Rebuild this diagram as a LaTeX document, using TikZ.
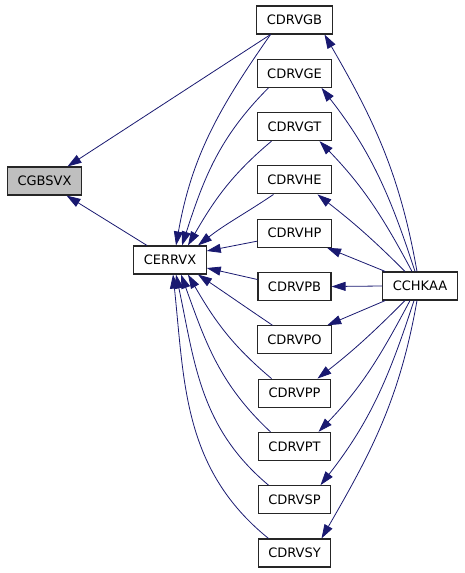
\documentclass[tikz,border=0pt]{standalone}
\usepackage{fontspec}
\setmainfont{DejaVu Sans}
\usetikzlibrary{chains,arrows.meta}

\definecolor{linkblue}{HTML}{191970}
\definecolor{focusgray}{HTML}{BFBFBF}

\begin{document}
\begin{tikzpicture}[
	x=1pt,y=1pt,
	start chain=going below,
	fn/.style={
		draw=black!85,
		line width=1.1pt,
		minimum height=28pt,
		inner xsep=10pt,
		font=\fontsize{13}{15}\selectfont,
	},
	drv/.style={fn,on chain},
	call/.style={<-,draw=linkblue,line width=0.8pt},
	>={Triangle[length=14pt,width=9pt]},
	node distance=24.2pt
]
\useasboundingbox (0,0) rectangle (464,-573);

\node [fn,fill=focusgray] (cgbsvx) at (44.5,-181) {CGBSVX};
\node [fn] (cerrvx) at (170,-260) {CERRVX};
\node [fn] (cchkaa) at (420,-286) {CCHKAA};

% Driver column, chain starts here
\node [drv] (gb) at (294.5,-20) {CDRVGB};
\node [drv] (ge) {CDRVGE};
\node [drv] (gt) {CDRVGT};
\node [drv] (he) {CDRVHE};
\node [drv] (hp) {CDRVHP};
\node [drv] (pb) {CDRVPB};
\node [drv] (po) {CDRVPO};
\node [drv] (pp) {CDRVPP};
\node [drv] (pt) {CDRVPT};
\node [drv] (sp) {CDRVSP};
\node [drv] (sy) {CDRVSY};
% Chain ends here

% Callers of CGBSVX
\draw[call] ([xshift=23]cgbsvx.north) -- ([xshift=-24]gb.south);
\draw[call] ([xshift=22]cgbsvx.south) -- ([xshift=-23]cerrvx.north);

% Drivers calling CERRVX
\draw[call] ([xshift=6]cerrvx.north) to[out=80,in=235] ([xshift=-24]gb.south);
\draw[call] ([xshift=12]cerrvx.north) to[out=72,in=225] ([xshift=-26]ge.south);
\draw[call] ([xshift=18]cerrvx.north) to[out=60,in=220] ([xshift=-23]gt.south);
\draw[call] ([xshift=28]cerrvx.north) to[out=38,in=214] ([xshift=-21]he.south);
\draw[call] ([yshift=9]cerrvx.east) -- ([yshift=-8]hp.west);
\draw[call] ([yshift=-8]cerrvx.east) -- ([yshift=7]pb.west);
\draw[call] ([xshift=28]cerrvx.south) to[out=-34,in=146] ([xshift=-22]po.north);
\draw[call] ([xshift=18]cerrvx.south) to[out=-60,in=140] ([xshift=-23]pp.north);
\draw[call] ([xshift=11]cerrvx.south) to[out=-70,in=137] ([xshift=-24]pt.north);
\draw[call] ([xshift=6]cerrvx.south) to[out=-78,in=140] ([xshift=-26]sp.north);
\draw[call] ([xshift=3]cerrvx.south) to[out=-84,in=141] ([xshift=-26]sy.north);

% CCHKAA calling the drivers
\draw[call] ([xshift=30]gb.south) to[out=-60,in=100] ([xshift=-3]cchkaa.north);
\draw[call] ([xshift=27]ge.south) to[out=-52,in=108] ([xshift=-5]cchkaa.north);
\draw[call] ([xshift=25]gt.south) to[out=-46,in=118] ([xshift=-8]cchkaa.north);
\draw[call] ([xshift=23]he.south) to[out=-38,in=135] ([xshift=-15]cchkaa.north);
\draw[call] ([xshift=-5]hp.south east) -- ([xshift=3]cchkaa.north west);
\draw[call] (pb.east) -- (cchkaa.west);
\draw[call] ([xshift=-5]po.north east) -- ([xshift=3]cchkaa.south west);
\draw[call] ([xshift=23]pp.north) to[out=38,in=-135] ([xshift=-15]cchkaa.south);
\draw[call] ([xshift=24]pt.north) to[out=46,in=-118] ([xshift=-10]cchkaa.south);
\draw[call] ([xshift=26]sp.north) to[out=52,in=-108] ([xshift=-6]cchkaa.south);
\draw[call] ([xshift=27]sy.north) to[out=60,in=-100] ([xshift=-3]cchkaa.south);

\end{tikzpicture}
\end{document}
